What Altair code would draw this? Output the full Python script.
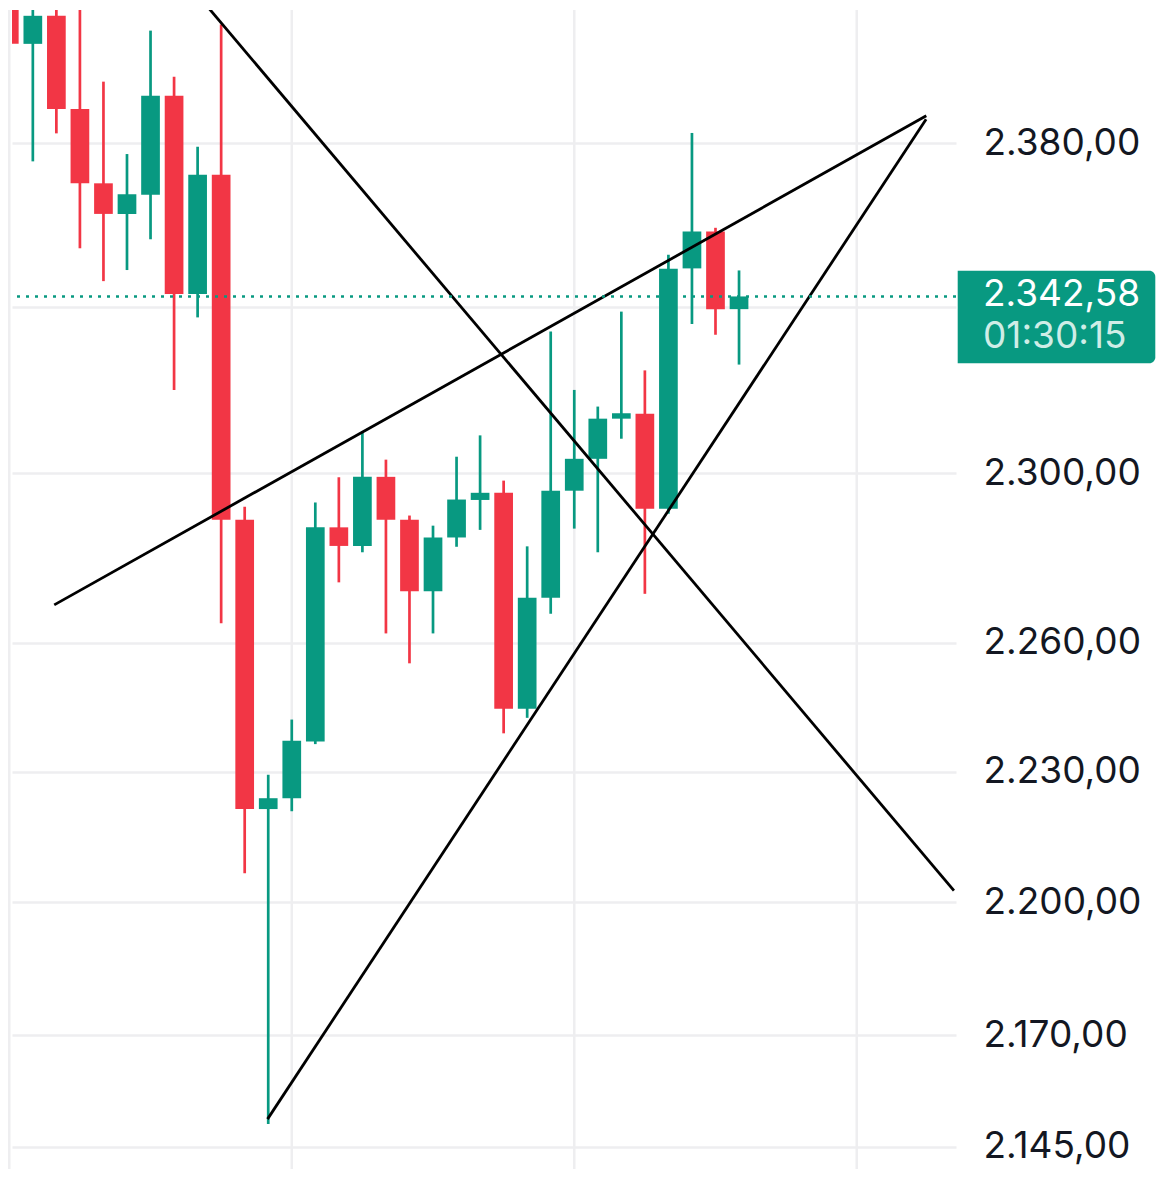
import altair as alt
import pandas as pd

# ---- data ----
opens = [2425.0, 2404.7, 2411.7, 2388.5, 2370.2, 2362.7, 2367.4, 2391.8, 2343.2, 2372.3,
         2289.0, 2221.4, 2223.9, 2237.0, 2287.2, 2282.8, 2299.2, 2289.0, 2272.1, 2284.8,
         2293.7, 2295.4, 2244.6, 2270.6, 2295.9, 2303.5, 2313.1, 2314.3, 2291.6, 2349.4,
         2358.4, 2339.5]
highs = [2432.0, 2425.0, 2422.0, 2413.9, 2395.3, 2377.4, 2408.0, 2396.5, 2379.2, 2409.5,
         2292.1, 2229.3, 2242.1, 2293.1, 2299.1, 2310.1, 2303.3, 2290.0, 2287.6, 2304.0,
         2309.1, 2298.3, 2282.7, 2334.1, 2320.0, 2316.0, 2338.9, 2324.7, 2352.7, 2382.6,
         2359.3, 2348.9]
lows = [2403.2, 2375.6, 2382.5, 2354.3, 2346.3, 2349.0, 2356.5, 2320.0, 2337.5, 2264.6,
        2206.7, 2150.1, 2220.9, 2236.4, 2274.2, 2281.3, 2262.2, 2255.2, 2262.2, 2282.6,
        2286.6, 2238.9, 2242.5, 2266.8, 2286.9, 2281.3, 2308.3, 2271.5, 2290.4, 2335.9,
        2333.3, 2326.1]
closes = [2404.7, 2411.7, 2388.5, 2370.2, 2362.7, 2367.5, 2391.8, 2343.2, 2372.3, 2289.0,
          2221.4, 2223.9, 2237.2, 2287.2, 2282.8, 2299.2, 2289.0, 2272.1, 2284.8, 2293.8,
          2295.4, 2244.6, 2270.6, 2295.9, 2303.5, 2313.1, 2314.4, 2291.6, 2349.3, 2358.4,
          2339.5, 2342.58]

trend_ids = ["desc", "desc", "rise", "rise", "steep", "steep"]
trend_x = [8.21, 40.13, 1.91, 38.955, 10.97, 38.947]
trend_y = [2415.45, 2202.7, 2268.9, 2386.84, 2151.17, 2385.97]

y_ticks = [2145, 2170, 2200, 2230, 2260, 2300, 2340, 2380]
x_grid = [0, 12, 24, 36]

last_price = [2342.58]
price_label = ["2.342,58"]
timer_label = ["01:30:15"]

# ---- style ----
GREEN = "#089981"
RED = "#F23645"
GRID = "#EEEEF0"
TEXT = "#131722"

xscale = alt.Scale(domain=[0.115, 40.217], nice=False, padding=0)
yscale = alt.Scale(type="log", domain=[2140.08, 2413.15], nice=False, padding=0)
yaxis = alt.Axis(
    orient="right", values=y_ticks, grid=True, gridColor=GRID, gridWidth=2.5,
    ticks=False, domain=False, title=None, labelFont="Inter", labelFontSize=37,
    labelColor=TEXT, labelPadding=27, labelFlush=False, labelOverlap=False,
    labelExpr="datum.value == 2340 ? '' : replace(replace(replace(format(datum.value, ',.2f'), ',', '#'), '.', ','), '#', '.')",
)

candles = pd.DataFrame({
    "i": list(range(len(opens))), "open": opens, "high": highs,
    "low": lows, "close": closes,
})
candles["dir"] = ["up" if c >= o else "down" for o, c in zip(opens, closes)]
color = alt.Color("dir:N", scale=alt.Scale(domain=["up", "down"], range=[GREEN, RED]), legend=None)

vgrid = alt.Chart(pd.DataFrame({"g": x_grid})).mark_rule(color=GRID, strokeWidth=2.5, clip=False).encode(
    x=alt.X("g:Q", scale=xscale, axis=None)
)

wicks = alt.Chart(candles).mark_rule(strokeWidth=2.7, clip=True).encode(
    x=alt.X("i:Q", scale=xscale, axis=None),
    y=alt.Y("low:Q", scale=yscale, axis=yaxis),
    y2="high:Q",
    color=color,
)
bodies = alt.Chart(candles).mark_bar(size=18.7, clip=True).encode(
    x=alt.X("i:Q", scale=xscale, axis=None),
    y=alt.Y("open:Q", scale=yscale, axis=yaxis),
    y2="close:Q",
    color=color,
)

trend = alt.Chart(pd.DataFrame({"line": trend_ids, "tx": trend_x, "ty": trend_y})).mark_line(
    color="black", strokeWidth=2.8, clip=True
).encode(
    x=alt.X("tx:Q", scale=xscale, axis=None),
    y=alt.Y("ty:Q", scale=yscale, axis=yaxis),
    detail="line:N",
)

last_df = pd.DataFrame({"price": last_price, "plabel": price_label, "tlabel": timer_label})

price_line = alt.Chart(last_df).mark_rule(color=GREEN, strokeWidth=2.5, strokeDash=[3, 6]).encode(
    y=alt.Y("price:Q", scale=yscale, axis=yaxis)
)

box = alt.Chart(last_df).mark_rect(
    color=GREEN, yOffset=-25.6, y2Offset=66.7,
    cornerRadiusTopRight=6, cornerRadiusBottomRight=6, clip=False
).encode(
    x=alt.value(945.7), x2=alt.value(1143.3),
    y=alt.Y("price:Q", scale=yscale, axis=yaxis), y2="price:Q",
)

ptext = alt.Chart(last_df).mark_text(
    align="left", baseline="middle", font="Inter", fontSize=37, color="white", dy=-1.3
).encode(
    x=alt.value(971.0), y=alt.Y("price:Q", scale=yscale, axis=yaxis), text="plabel:N"
)
ttext = alt.Chart(last_df).mark_text(
    align="left", baseline="middle", font="Inter", fontSize=37, color="#CFEDE7", dy=40.7
).encode(
    x=alt.value(971.0), y=alt.Y("price:Q", scale=yscale, axis=yaxis), text="tlabel:N"
)

chart = alt.layer(vgrid, wicks, bodies, trend, price_line, box, ptext, ttext).properties(
    width=944, height=1159, padding=0, background="white"
).configure_view(stroke=None)

chart.save("out.html", embed_options={"renderer": "svg", "actions": False})
